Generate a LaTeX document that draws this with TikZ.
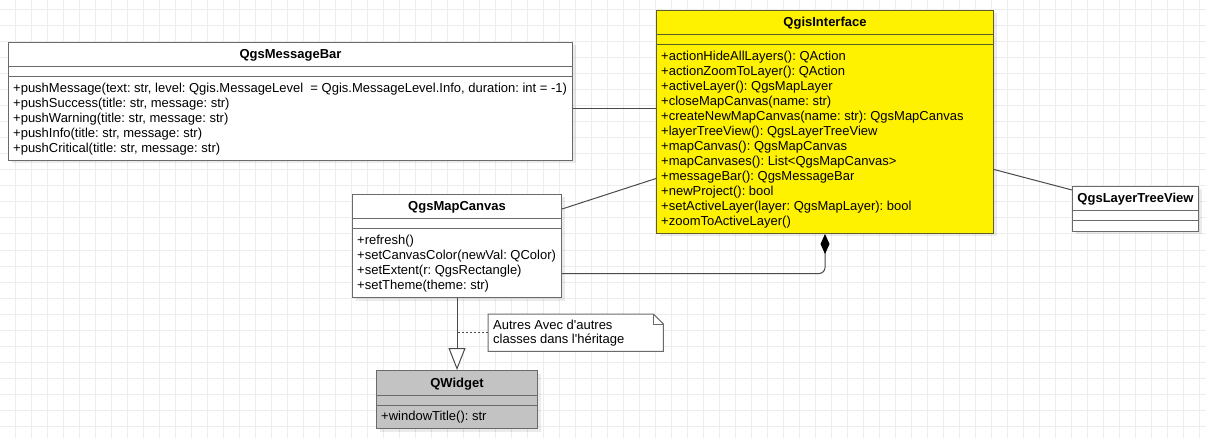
\documentclass[tikz,border=0pt]{standalone}
\usepackage{fontspec}
\setmainfont{Liberation Sans}[Ligatures=TeXOff]
\usetikzlibrary{arrows.meta,shadows}
\definecolor{gridc}{HTML}{EDEDED}
\definecolor{edge}{HTML}{6A6A6A}
\definecolor{ifaceedge}{HTML}{5F5F2A}
\definecolor{qgray}{HTML}{C3C3C3}
\frenchspacing

\begin{document}
\begin{tikzpicture}[x=1pt,y=-1pt,
    every node/.style={font=\fontsize{13}{15}\selectfont},
    cls/.style={draw=edge,fill=white,line width=1pt,inner sep=0pt,anchor=north west,
      drop shadow={shadow xshift=3pt,shadow yshift=-3pt,fill=black,opacity=.08}},
    ttl/.style={font=\fontsize{13}{15}\selectfont\bfseries,inner sep=0pt,anchor=base},
    ops/.style={align=left,anchor=north west,inner sep=0pt},
    sep/.style={draw=edge,line width=1pt},
    link/.style={draw=edge!70!black,line width=1pt}]
    \useasboundingbox (0,0) rectangle (1206,438);
    % background grid
    \foreach \gx in {0,...,75} \draw[gridc,line width=1pt] (15.7+16*\gx,0) -- (15.7+16*\gx,438);
    \foreach \gy in {0,...,27} \draw[gridc,line width=1pt] (0,10+16*\gy) -- (1206,10+16*\gy);

    % QgsMessageBar
    \node[cls,minimum width=564pt,minimum height=118pt] (bar) at (8,42) {};
    \draw[sep] ([yshift=-25pt]bar.north west) -- ([yshift=-25pt]bar.north east);
    \draw[sep] ([yshift=-35pt]bar.north west) -- ([yshift=-35pt]bar.north east);
    \node[ttl] at ([yshift=-17pt]bar.north) {QgsMessageBar};
    \node[ops] at ([xshift=5pt,yshift=-40.5pt]bar.north west)
     {+pushMessage(text: str, level: Qgis.MessageLevel~ = Qgis.MessageLevel.Info, duration: int = -1)\\
      +pushSuccess(title: str, message: str)\\
      +pushWarning(title: str, message: str)\\
      +pushInfo(title: str, message: str)\\
      +pushCritical(title: str, message: str)};

    % QgisInterface
    \node[cls,draw=ifaceedge,fill=yellow,minimum width=337pt,minimum height=223pt] (iface) at (656,10) {};
    \draw[sep,ifaceedge] ([yshift=-25pt]iface.north west) -- ([yshift=-25pt]iface.north east);
    \draw[sep,ifaceedge] ([yshift=-35pt]iface.north west) -- ([yshift=-35pt]iface.north east);
    \node[ttl] at ([yshift=-17pt]iface.north) {QgisInterface};
    \node[ops] at ([xshift=5pt,yshift=-40.5pt]iface.north west)
     {+actionHideAllLayers(): QAction\\
      +actionZoomToLayer(): QAction\\
      +activeLayer(): QgsMapLayer\\
      +closeMapCanvas(name: str)\\
      +createNewMapCanvas(name: str): QgsMapCanvas\\
      +layerTreeView(): QgsLayerTreeView\\
      +mapCanvas(): QgsMapCanvas\\
      +mapCanvases(): List<QgsMapCanvas>\\
      +messageBar(): QgsMessageBar\\
      +newProject(): bool\\
      +setActiveLayer(layer: QgsMapLayer): bool\\
      +zoomToActiveLayer()};

    % QgsLayerTreeView
    \node[cls,minimum width=126pt,minimum height=45pt] (ltv) at (1072,186) {};
    \draw[sep] ([yshift=-25pt]ltv.north west) -- ([yshift=-25pt]ltv.north east);
    \draw[sep] ([yshift=-35pt]ltv.north west) -- ([yshift=-35pt]ltv.north east);
    \node[ttl] at ([yshift=-17pt]ltv.north) {QgsLayerTreeView};

    % QgsMapCanvas
    \node[cls,minimum width=209pt,minimum height=103pt] (canvas) at (352,194) {};
    \draw[sep] ([yshift=-25pt]canvas.north west) -- ([yshift=-25pt]canvas.north east);
    \draw[sep] ([yshift=-35pt]canvas.north west) -- ([yshift=-35pt]canvas.north east);
    \node[ttl] at ([yshift=-17pt]canvas.north) {QgsMapCanvas};
    \node[ops] at ([xshift=5pt,yshift=-40.5pt]canvas.north west)
     {+refresh()\\
      +setCanvasColor(newVal: QColor)\\
      +setExtent(r: QgsRectangle)\\
      +setTheme(theme: str)};

    % QWidget
    \node[cls,fill=qgray,minimum width=161pt,minimum height=58pt] (widget) at (376,370) {};
    \draw[sep] ([yshift=-25pt]widget.north west) -- ([yshift=-25pt]widget.north east);
    \draw[sep] ([yshift=-35pt]widget.north west) -- ([yshift=-35pt]widget.north east);
    \node[ttl] at ([yshift=-17pt]widget.north) {QWidget};
    \node[ops] at ([xshift=5pt,yshift=-40.5pt]widget.north west) {+windowTitle(): str};

    % note
    \node[inner sep=0pt,minimum width=175pt,minimum height=37pt,anchor=north west] (note) at (488,314) {};
    \draw[sep,fill=white] (note.north west) -- ([xshift=-10pt]note.north east) -- ([yshift=-10pt]note.north east)
      -- (note.south east) -- (note.south west) -- cycle;
    \draw[sep] ([xshift=-10pt]note.north east) -- ([xshift=-10pt,yshift=-10pt]note.north east) -- ([yshift=-10pt]note.north east);
    \node[ops,font=\fontsize{13}{14}\selectfont] at ([xshift=5pt,yshift=-5.5pt]note.north west)
     {Autres Avec d'autres\\classes dans l'héritage};

    % connectors
    \draw[link] ([yshift=-67pt]bar.north east) -- ([yshift=-67pt]bar.north east -| iface.west);
    \draw[link] ([yshift=-15pt]canvas.north east) -- ([yshift=-56.5pt]iface.west);
    \draw[link] ([yshift=-47.5pt]iface.east) -- ([yshift=-4pt]ltv.north west);
    \draw[link,rounded corners=6pt,-{Diamond[length=20pt,width=9pt,black]}] ([yshift=-27.5pt]canvas.east) -| (iface.south);
    \draw[link,-{Triangle[open,length=22pt,width=17pt,fill=white]}] (canvas.south) -- (widget.north);
    \draw[link,dash pattern=on 2pt off 2pt] (note.west) -- (note.west -| canvas.south);
\end{tikzpicture}
\end{document}
